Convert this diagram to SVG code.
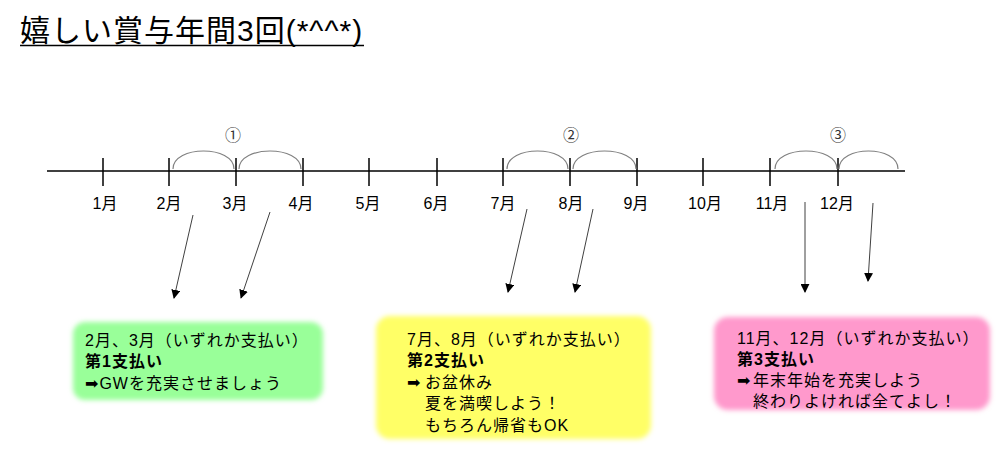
<svg xmlns="http://www.w3.org/2000/svg" width="1000" height="462" viewBox="0 0 1000 462">
<defs>
<style>
text{font-family:"Liberation Sans","Noto Sans CJK JP",sans-serif;fill:#000;}
.title{font-size:30px;letter-spacing:1px;}
.m{font-size:16px;text-anchor:middle;}
.c{font-size:16px;text-anchor:middle;fill:#333;}
.t{font-size:16px;letter-spacing:1px;}
.b{font-weight:bold;}
.axis{stroke:#000;stroke-width:1.5;fill:none;}
.arc{stroke:#808080;stroke-width:1.2;fill:none;}
.arr{stroke:#404040;stroke-width:1;fill:none;marker-end:url(#ah);}
.ar{font-family:"DejaVu Sans",sans-serif;}
</style>
<marker id="ah" viewBox="0 0 10 10" refX="9" refY="5" markerWidth="9" markerHeight="9" markerUnits="userSpaceOnUse" orient="auto">
<path d="M0,0 L10,5 L0,10 z" fill="#000"/>
</marker>
<filter id="soft" x="-10%" y="-10%" width="120%" height="120%">
<feGaussianBlur stdDeviation="2.5"/>
</filter>
</defs>

<g id="title">
<text class="title" x="20" y="41">嬉しい賞与年間3回(*^^*)</text>
<line x1="20" y1="45.5" x2="364" y2="45.5" stroke="#000" stroke-width="1.5"/>
</g>

<g id="timeline">
<line class="axis" x1="47" y1="171" x2="905" y2="171"/>
<g class="axis">
<line x1="103" y1="158" x2="103" y2="186"/>
<line x1="169" y1="158" x2="169" y2="186"/>
<line x1="236" y1="158" x2="236" y2="186"/>
<line x1="303" y1="158" x2="303" y2="186"/>
<line x1="369" y1="158" x2="369" y2="186"/>
<line x1="437" y1="158" x2="437" y2="186"/>
<line x1="503" y1="158" x2="503" y2="186"/>
<line x1="570" y1="158" x2="570" y2="186"/>
<line x1="637" y1="158" x2="637" y2="186"/>
<line x1="703" y1="158" x2="703" y2="186"/>
<line x1="770" y1="158" x2="770" y2="186"/>
<line x1="838" y1="158" x2="838" y2="186"/>
</g>
<text class="m" x="105" y="209">1月</text>
<text class="m" x="169" y="209">2月</text>
<text class="m" x="235" y="209">3月</text>
<text class="m" x="301" y="209">4月</text>
<text class="m" x="368" y="209">5月</text>
<text class="m" x="436" y="209">6月</text>
<text class="m" x="503" y="209">7月</text>
<text class="m" x="571" y="209">8月</text>
<text class="m" x="636" y="209">9月</text>
<text class="m" x="705" y="209">10月</text>
<text class="m" x="772" y="209">11月</text>
<text class="m" x="837" y="209">12月</text>
</g>

<g id="periods">
<path class="arc" d="M173,169 C173,145 234,145 234,169"/>
<path class="arc" d="M239,169 C239,145 301,145 301,169"/>
<text class="c" x="233" y="141">①</text>
<path class="arc" d="M507,169 C507,145 568,145 568,169"/>
<path class="arc" d="M573,169 C573,145 636,145 636,169"/>
<text class="c" x="571" y="141">②</text>
<path class="arc" d="M775,169 C775,145 837,145 837,169"/>
<path class="arc" d="M839,169 C839,145 898,145 898,169"/>
<text class="c" x="838" y="141">③</text>
</g>

<g id="connectors">
<line class="arr" x1="193" y1="215" x2="174" y2="298"/>
<line class="arr" x1="270" y1="212" x2="241" y2="298"/>
<line class="arr" x1="527" y1="209" x2="508" y2="292"/>
<line class="arr" x1="593" y1="209" x2="575" y2="292"/>
<line class="arr" x1="805" y1="202" x2="805" y2="292"/>
<line class="arr" x1="873" y1="203" x2="868" y2="281"/>
</g>

<g id="box1">
<rect x="73" y="322" width="250" height="78" rx="12" fill="#99FF99" filter="url(#soft)"/>
<text class="t" x="85" y="346">2月、3月（いずれか支払い）</text>
<text class="t b" x="85" y="367">第1支払い</text>
<text class="t" x="85" y="389"><tspan class="ar">➡</tspan>GWを充実させましょう</text>
</g>

<g id="box2">
<rect x="376" y="316" width="275" height="123" rx="14" fill="#FFFF66" filter="url(#soft)"/>
<text class="t" x="407" y="345">7月、8月（いずれか支払い）</text>
<text class="t b" x="407" y="366">第2支払い</text>
<text class="t" x="407" y="388"><tspan class="ar">➡</tspan></text>
<text class="t" x="425" y="388">お盆休み</text>
<text class="t" x="425" y="409">夏を満喫しよう！</text>
<text class="t" x="425" y="431">もちろん帰省もOK</text>
</g>

<g id="box3">
<rect x="714" y="317" width="276" height="93" rx="14" fill="#FF99CC" filter="url(#soft)"/>
<text class="t" x="737" y="344">11月、12月（いずれか支払い）</text>
<text class="t b" x="737" y="365">第3支払い</text>
<text class="t" x="737" y="386"><tspan class="ar">➡</tspan></text>
<text class="t" x="753" y="386">年末年始を充実しよう</text>
<text class="t" x="753" y="407">終わりよければ全てよし！</text>
</g>
</svg>
